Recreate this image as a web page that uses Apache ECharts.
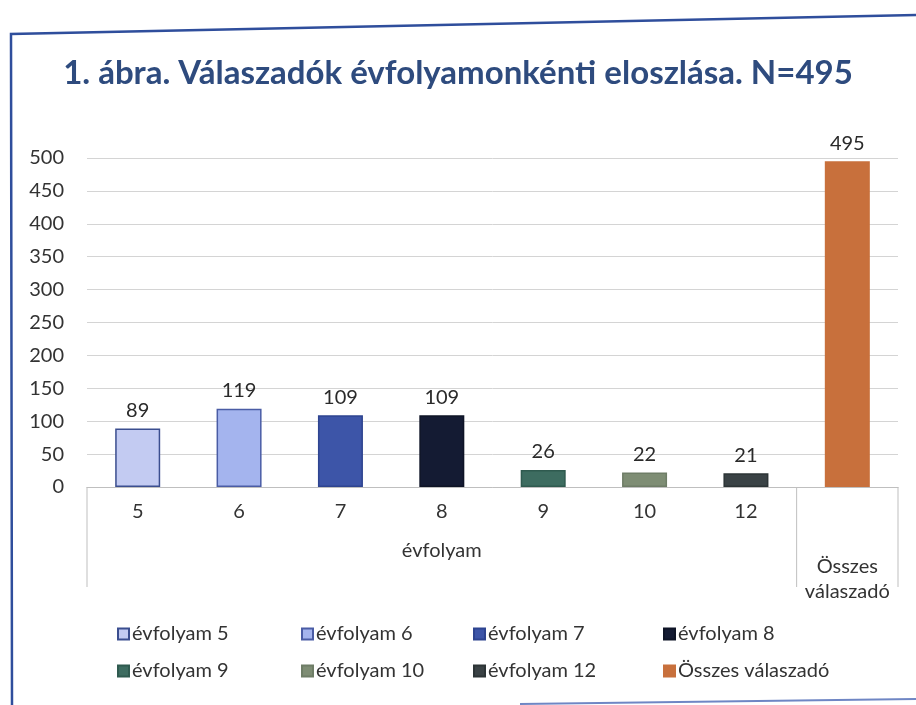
<!DOCTYPE html>
<html>
<head>
<meta charset="utf-8">
<script src="https://cdn.jsdelivr.net/npm/echarts@6/dist/echarts.min.js"></script>
<style>
html,body{margin:0;padding:0;background:#fff;}
#c{width:916px;height:705px;}
</style>
</head>
<body>
<div id="c"></div>
<script>
const titleText = '1. ábra. Válaszadók évfolyamonkénti eloszlása. N=495';
const categories = ['5', '6', '7', '8', '9', '10', '12', 'Összes válaszadó'];
const axisLabels = ['5', '6', '7', '8', '9', '10', '12', ''];
const seriesNames = ['évfolyam 5', 'évfolyam 6', 'évfolyam 7', 'évfolyam 8', 'évfolyam 9', 'évfolyam 10', 'évfolyam 12', 'Összes válaszadó'];
const values = [89, 119, 109, 109, 26, 22, 21, 495];
const groupLabel = 'évfolyam';
const totalLabel = 'Összes\nválaszadó';
const yMin = 0, yMax = 500, yStep = 50;

const fillColors = ['#C3CBF2', '#A4B4EE', '#3D55A8', '#141B33', '#3D6C60', '#7E8D74', '#3A4245', '#C8703C'];
const edgeColors = ['#3B4E8F', '#4A5CA5', '#2E4490', '#0E1426', '#2F5A4F', '#6E7D66', '#2C3436', '#C8703C'];

const FONT = 'Lato, "Open Sans", sans-serif';
const FS = 20;
const chart = echarts.init(document.getElementById('c'));

const series = seriesNames.map((name, i) => ({
  name: name,
  type: 'bar',
  stack: 'one',
  barWidth: 45,
  data: categories.map((c, j) => (j === i ? values[i] : '-')),
  itemStyle: { color: fillColors[i], borderColor: edgeColors[i], borderWidth: 1.5 },
  label: { show: true, position: 'top', distance: 8, fontFamily: FONT, fontSize: FS, color: '#2a2a2a' }
}));

const legendCols = [[0, 4], [1, 5], [2, 6], [3, 7]];
const legendLefts = [112, 296, 468, 658];
const legends = legendCols.map((idx, k) => ({
  data: idx.map(i => seriesNames[i]),
  orient: 'vertical',
  left: legendLefts[k],
  top: 619,
  itemWidth: 11,
  itemHeight: 11,
  itemGap: 17,
  icon: 'rect',
  selectedMode: false,
  textStyle: { fontFamily: FONT, fontSize: FS, color: '#333', padding: [0, 0, 0, -2] }
}));

chart.setOption({
  animation: false,
  backgroundColor: '#fff',
  title: {
    text: titleText,
    left: 'center',
    top: 52,
    textStyle: { fontFamily: FONT, fontWeight: 'bold', fontSize: 33, color: '#2E4B7E' }
  },
  legend: legends,
  grid: { left: 87, right: 18, top: 158, bottom: 218, containLabel: false },
  xAxis: {
    type: 'category',
    data: categories,
    axisLine: { lineStyle: { color: '#BFBFBF', width: 1 } },
    axisTick: { show: false },
    axisLabel: {
      formatter: (v, i) => axisLabels[i],
      fontFamily: FONT, fontSize: FS, color: '#333', margin: 15
    }
  },
  yAxis: {
    type: 'value',
    min: yMin, max: yMax, interval: yStep,
    axisLine: { show: false },
    axisTick: { show: false },
    axisLabel: { fontFamily: FONT, fontSize: FS, color: '#333', margin: 23 },
    splitLine: { lineStyle: { color: '#D4D4D4', width: 1 } }
  },
  series: series
});

// multi-level axis: group label and dividers from the category scale
const px = (i) => chart.convertToPixel({ xAxisIndex: 0 }, categories[i]);
const y0 = chart.convertToPixel({ yAxisIndex: 0 }, 0);
const half = (px(1) - px(0)) / 2;
const leftEdge = px(0) - half;
const divider = px(6) + half;
const rightEdge = px(7) + half;
const lineStyle = { stroke: '#BFBFBF', lineWidth: 1 };
chart.setOption({
  graphic: [
    { type: 'line', shape: { x1: leftEdge, y1: y0, x2: leftEdge, y2: y0 + 100 }, style: lineStyle },
    { type: 'line', shape: { x1: divider, y1: y0, x2: divider, y2: y0 + 100 }, style: lineStyle },
    { type: 'line', shape: { x1: rightEdge, y1: y0, x2: rightEdge, y2: y0 + 100 }, style: lineStyle },
    { type: 'text', x: (px(0) + px(6)) / 2, y: y0 + 64, style: { text: groupLabel, fontFamily: FONT, fontSize: FS, fill: '#333', align: 'center', verticalAlign: 'middle' } },
    { type: 'text', x: px(7), y: y0 + 92, style: { text: totalLabel, fontFamily: FONT, fontSize: FS, lineHeight: 25, fill: '#333', align: 'center', verticalAlign: 'middle' } },
    { type: 'polyline', shape: { points: [[12, 705], [11, 34], [916, 15]] }, style: { stroke: '#2F4E9C', lineWidth: 2.5, fill: null } },
    { type: 'line', shape: { x1: 520, y1: 704, x2: 916, y2: 699 }, style: { stroke: '#6F86C4', lineWidth: 2 } }
  ]
});
</script>
</body>
</html>
